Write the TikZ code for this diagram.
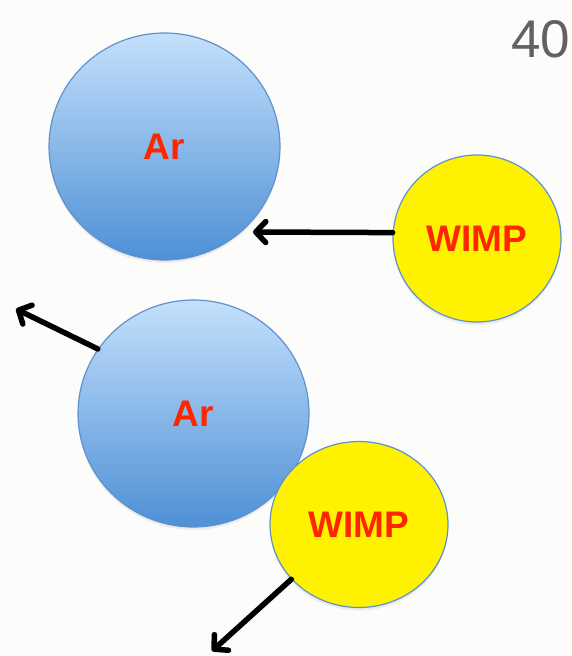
\documentclass[tikz,border=0pt]{standalone}
\usepackage{fontspec}
\setmainfont{Liberation Sans}
\usetikzlibrary{arrows.meta,shapes.geometric,shadows}
\definecolor{argontop}{RGB}{196,224,251}
\definecolor{argonbot}{RGB}{78,144,214}
\definecolor{rim}{RGB}{95,145,205}
\definecolor{labelred}{RGB}{252,38,0}
\definecolor{slidegray}{RGB}{98,98,98}
\definecolor{paper}{RGB}{252,252,251}
\tikzset{
  argon/.style={ellipse, draw=rim, line width=1.2pt, inner sep=0pt,
    minimum width=231pt, minimum height=227pt,
    top color=argontop, bottom color=argonbot,
    drop shadow={opacity=0.12, shadow xshift=0pt, shadow yshift=-3pt},
    text=labelred, font=\fontsize{37}{40}\selectfont\bfseries},
  wimp/.style={ellipse, draw=rim, line width=1.2pt, inner sep=0pt, fill=yellow,
    drop shadow={opacity=0.12, shadow xshift=0pt, shadow yshift=-3pt},
    text=labelred, font=\fontsize{37}{40}\selectfont\bfseries},
  motion/.style={line width=5.5pt, black, line cap=round,
    -{Straight Barb[length=10pt,width=21pt,round]}}
}
\begin{document}
\begin{tikzpicture}[x=1pt,y=-1pt]
  % page frame
  \fill[paper] (0,0) rectangle (571,656);
  \useasboundingbox (0,0) rectangle (571,656);

  % slide number
  \node[anchor=base west, inner sep=0pt, text=slidegray,
        font=\fontsize{53}{60}\selectfont] (num) at (511,57) {40};

  % before the collision
  \node[argon] (ar1) at (164.5,146.5) {Ar};
  \node[wimp, minimum width=168pt, minimum height=167pt] (w1) at (477,238.5) {WIMP};
  \coordinate (t1) at (253,232);
  \draw[motion] (w1.176) -- (t1);

  % after the collision
  \node[argon] (ar2) at (193.5,413.5) {Ar};
  \node[wimp, minimum width=178pt, minimum height=166pt] (w2) at (359,524.5) {WIMP};
  \coordinate (t2) at (16,309);
  \coordinate (t3) at (212,651);
  \draw[motion] (ar2.146) -- (t2);
  \draw[motion] (w2.219) -- (t3);
\end{tikzpicture}
\end{document}
